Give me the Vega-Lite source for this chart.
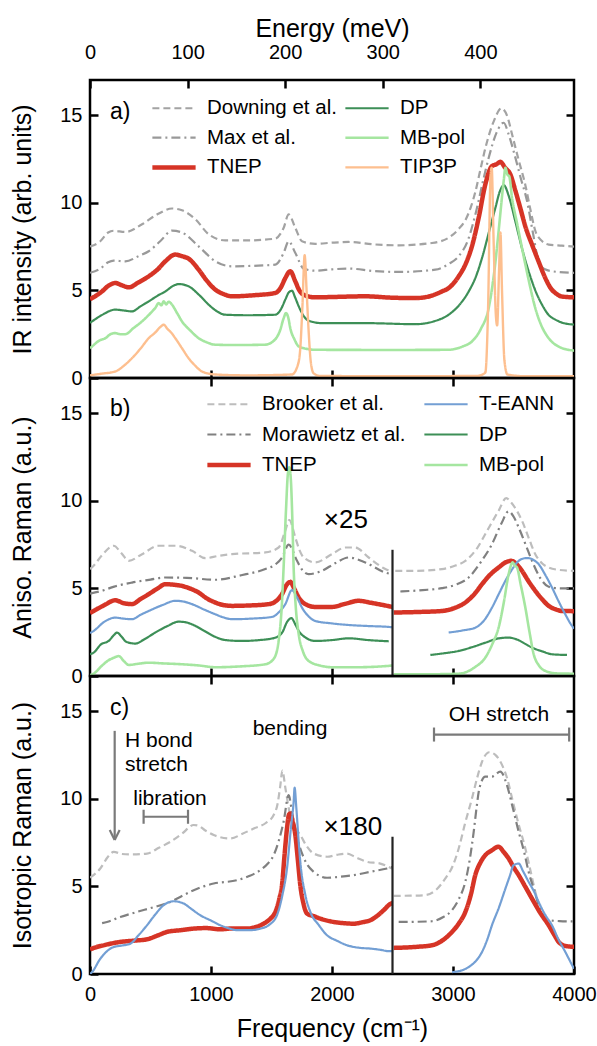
{
"$schema":"https://vega.github.io/schema/vega-lite/v6.json",
"padding":{"left":9,"top":14,"right":3,"bottom":3},
"spacing":0,
"bounds":"flush",
"datasets":{
"a":[
{"s":"Downing et al.","g":0,"x":0,"y":7.5},{"s":"Downing et al.","g":0,"x":85,"y":7.8},{"s":"Downing et al.","g":0,"x":150,"y":8.3},{"s":"Downing et al.","g":0,"x":196,"y":8.4},{"s":"Downing et al.","g":0,"x":292,"y":8.33},{"s":"Downing et al.","g":0,"x":430,"y":8.77},{"s":"Downing et al.","g":0,"x":560,"y":9.35},{"s":"Downing et al.","g":0,"x":678,"y":9.67},{"s":"Downing et al.","g":0,"x":760,"y":9.57},{"s":"Downing et al.","g":0,"x":870,"y":9.06},{"s":"Downing et al.","g":0,"x":981,"y":8.2},{"s":"Downing et al.","g":0,"x":1118,"y":7.85},{"s":"Downing et al.","g":0,"x":1300,"y":7.85},{"s":"Downing et al.","g":0,"x":1530,"y":7.95},{"s":"Downing et al.","g":0,"x":1600,"y":8.56},{"s":"Downing et al.","g":0,"x":1642,"y":9.33},{"s":"Downing et al.","g":0,"x":1697,"y":8.56},{"s":"Downing et al.","g":0,"x":1752,"y":7.8},{"s":"Downing et al.","g":0,"x":1862,"y":7.65},{"s":"Downing et al.","g":0,"x":2000,"y":7.72},{"s":"Downing et al.","g":0,"x":2138,"y":7.76},{"s":"Downing et al.","g":0,"x":2350,"y":7.62},{"s":"Downing et al.","g":0,"x":2551,"y":7.57},{"s":"Downing et al.","g":0,"x":2826,"y":7.7},{"s":"Downing et al.","g":0,"x":2964,"y":8.0},{"s":"Downing et al.","g":0,"x":3047,"y":8.5},{"s":"Downing et al.","g":0,"x":3102,"y":9.0},{"s":"Downing et al.","g":0,"x":3150,"y":9.8},{"s":"Downing et al.","g":0,"x":3184,"y":10.6},{"s":"Downing et al.","g":0,"x":3230,"y":12.0},{"s":"Downing et al.","g":0,"x":3267,"y":13.1},{"s":"Downing et al.","g":0,"x":3340,"y":14.7},{"s":"Downing et al.","g":0,"x":3400,"y":15.38},{"s":"Downing et al.","g":0,"x":3450,"y":14.9},{"s":"Downing et al.","g":0,"x":3488,"y":13.9},{"s":"Downing et al.","g":0,"x":3540,"y":12.5},{"s":"Downing et al.","g":0,"x":3598,"y":11.0},{"s":"Downing et al.","g":0,"x":3640,"y":9.6},{"s":"Downing et al.","g":0,"x":3680,"y":8.4},{"s":"Downing et al.","g":0,"x":3730,"y":7.85},{"s":"Downing et al.","g":0,"x":3791,"y":7.61},{"s":"Downing et al.","g":0,"x":3900,"y":7.55},{"s":"Downing et al.","g":0,"x":4000,"y":7.5},
{"s":"Max et al.","g":0,"x":0,"y":6.0},{"s":"Max et al.","g":0,"x":85,"y":6.24},{"s":"Max et al.","g":0,"x":150,"y":6.6},{"s":"Max et al.","g":0,"x":196,"y":6.7},{"s":"Max et al.","g":0,"x":292,"y":6.65},{"s":"Max et al.","g":0,"x":400,"y":6.95},{"s":"Max et al.","g":0,"x":485,"y":7.23},{"s":"Max et al.","g":0,"x":580,"y":7.8},{"s":"Max et al.","g":0,"x":678,"y":8.41},{"s":"Max et al.","g":0,"x":760,"y":8.3},{"s":"Max et al.","g":0,"x":898,"y":7.51},{"s":"Max et al.","g":0,"x":1036,"y":6.66},{"s":"Max et al.","g":0,"x":1174,"y":6.37},{"s":"Max et al.","g":0,"x":1350,"y":6.4},{"s":"Max et al.","g":0,"x":1532,"y":6.47},{"s":"Max et al.","g":0,"x":1600,"y":7.13},{"s":"Max et al.","g":0,"x":1642,"y":7.8},{"s":"Max et al.","g":0,"x":1697,"y":7.13},{"s":"Max et al.","g":0,"x":1766,"y":6.24},{"s":"Max et al.","g":0,"x":1862,"y":6.12},{"s":"Max et al.","g":0,"x":2000,"y":6.2},{"s":"Max et al.","g":0,"x":2138,"y":6.24},{"s":"Max et al.","g":0,"x":2350,"y":6.1},{"s":"Max et al.","g":0,"x":2551,"y":6.05},{"s":"Max et al.","g":0,"x":2854,"y":6.18},{"s":"Max et al.","g":0,"x":2964,"y":6.5},{"s":"Max et al.","g":0,"x":3047,"y":6.95},{"s":"Max et al.","g":0,"x":3120,"y":7.8},{"s":"Max et al.","g":0,"x":3198,"y":9.7},{"s":"Max et al.","g":0,"x":3250,"y":11.3},{"s":"Max et al.","g":0,"x":3295,"y":12.56},{"s":"Max et al.","g":0,"x":3360,"y":14.0},{"s":"Max et al.","g":0,"x":3419,"y":14.56},{"s":"Max et al.","g":0,"x":3460,"y":13.9},{"s":"Max et al.","g":0,"x":3501,"y":12.94},{"s":"Max et al.","g":0,"x":3560,"y":11.4},{"s":"Max et al.","g":0,"x":3612,"y":10.09},{"s":"Max et al.","g":0,"x":3660,"y":8.3},{"s":"Max et al.","g":0,"x":3708,"y":6.66},{"s":"Max et al.","g":0,"x":3760,"y":6.2},{"s":"Max et al.","g":0,"x":3818,"y":6.09},{"s":"Max et al.","g":0,"x":4000,"y":6.0},
{"s":"TNEP","g":0,"x":0,"y":4.5},{"s":"TNEP","g":0,"x":17,"y":4.56},{"s":"TNEP","g":0,"x":99,"y":4.94},{"s":"TNEP","g":0,"x":150,"y":5.25},{"s":"TNEP","g":0,"x":209,"y":5.42},{"s":"TNEP","g":0,"x":260,"y":5.3},{"s":"TNEP","g":0,"x":320,"y":5.17},{"s":"TNEP","g":0,"x":400,"y":5.45},{"s":"TNEP","g":0,"x":485,"y":5.8},{"s":"TNEP","g":0,"x":560,"y":6.2},{"s":"TNEP","g":0,"x":623,"y":6.66},{"s":"TNEP","g":0,"x":705,"y":7.04},{"s":"TNEP","g":0,"x":760,"y":6.95},{"s":"TNEP","g":0,"x":815,"y":6.81},{"s":"TNEP","g":0,"x":898,"y":6.18},{"s":"TNEP","g":0,"x":960,"y":5.6},{"s":"TNEP","g":0,"x":1036,"y":5.04},{"s":"TNEP","g":0,"x":1100,"y":4.8},{"s":"TNEP","g":0,"x":1174,"y":4.66},{"s":"TNEP","g":0,"x":1350,"y":4.72},{"s":"TNEP","g":0,"x":1532,"y":4.85},{"s":"TNEP","g":0,"x":1580,"y":5.2},{"s":"TNEP","g":0,"x":1614,"y":5.7},{"s":"TNEP","g":0,"x":1655,"y":6.09},{"s":"TNEP","g":0,"x":1697,"y":5.51},{"s":"TNEP","g":0,"x":1730,"y":5.0},{"s":"TNEP","g":0,"x":1766,"y":4.75},{"s":"TNEP","g":0,"x":1862,"y":4.6},{"s":"TNEP","g":0,"x":2000,"y":4.62},{"s":"TNEP","g":0,"x":2275,"y":4.66},{"s":"TNEP","g":0,"x":2500,"y":4.58},{"s":"TNEP","g":0,"x":2688,"y":4.56},{"s":"TNEP","g":0,"x":2800,"y":4.65},{"s":"TNEP","g":0,"x":2909,"y":4.94},{"s":"TNEP","g":0,"x":2964,"y":5.13},{"s":"TNEP","g":0,"x":3047,"y":5.8},{"s":"TNEP","g":0,"x":3102,"y":6.47},{"s":"TNEP","g":0,"x":3160,"y":7.6},{"s":"TNEP","g":0,"x":3212,"y":9.13},{"s":"TNEP","g":0,"x":3267,"y":11.04},{"s":"TNEP","g":0,"x":3322,"y":12.09},{"s":"TNEP","g":0,"x":3360,"y":12.2},{"s":"TNEP","g":0,"x":3391,"y":12.33},{"s":"TNEP","g":0,"x":3430,"y":12.0},{"s":"TNEP","g":0,"x":3474,"y":11.61},{"s":"TNEP","g":0,"x":3515,"y":10.7},{"s":"TNEP","g":0,"x":3556,"y":9.7},{"s":"TNEP","g":0,"x":3600,"y":8.6},{"s":"TNEP","g":0,"x":3653,"y":7.61},{"s":"TNEP","g":0,"x":3710,"y":6.6},{"s":"TNEP","g":0,"x":3763,"y":5.7},{"s":"TNEP","g":0,"x":3810,"y":5.1},{"s":"TNEP","g":0,"x":3846,"y":4.85},{"s":"TNEP","g":0,"x":3900,"y":4.65},{"s":"TNEP","g":0,"x":4000,"y":4.6},
{"s":"DP","g":0,"x":0,"y":3.15},{"s":"DP","g":0,"x":17,"y":3.23},{"s":"DP","g":0,"x":100,"y":3.6},{"s":"DP","g":0,"x":209,"y":3.9},{"s":"DP","g":0,"x":280,"y":3.85},{"s":"DP","g":0,"x":347,"y":3.8},{"s":"DP","g":0,"x":420,"y":4.1},{"s":"DP","g":0,"x":485,"y":4.37},{"s":"DP","g":0,"x":560,"y":4.7},{"s":"DP","g":0,"x":623,"y":4.94},{"s":"DP","g":0,"x":700,"y":5.3},{"s":"DP","g":0,"x":733,"y":5.36},{"s":"DP","g":0,"x":815,"y":5.23},{"s":"DP","g":0,"x":900,"y":4.75},{"s":"DP","g":0,"x":981,"y":4.18},{"s":"DP","g":0,"x":1050,"y":3.8},{"s":"DP","g":0,"x":1118,"y":3.61},{"s":"DP","g":0,"x":1300,"y":3.58},{"s":"DP","g":0,"x":1532,"y":3.61},{"s":"DP","g":0,"x":1580,"y":3.95},{"s":"DP","g":0,"x":1614,"y":4.47},{"s":"DP","g":0,"x":1645,"y":4.9},{"s":"DP","g":0,"x":1669,"y":4.98},{"s":"DP","g":0,"x":1695,"y":4.6},{"s":"DP","g":0,"x":1725,"y":4.09},{"s":"DP","g":0,"x":1765,"y":3.55},{"s":"DP","g":0,"x":1807,"y":3.27},{"s":"DP","g":0,"x":1917,"y":3.13},{"s":"DP","g":0,"x":2275,"y":3.13},{"s":"DP","g":0,"x":2688,"y":3.07},{"s":"DP","g":0,"x":2850,"y":3.25},{"s":"DP","g":0,"x":2964,"y":3.61},{"s":"DP","g":0,"x":3050,"y":4.15},{"s":"DP","g":0,"x":3130,"y":4.94},{"s":"DP","g":0,"x":3190,"y":5.8},{"s":"DP","g":0,"x":3240,"y":6.85},{"s":"DP","g":0,"x":3300,"y":8.4},{"s":"DP","g":0,"x":3350,"y":9.7},{"s":"DP","g":0,"x":3390,"y":10.7},{"s":"DP","g":0,"x":3420,"y":11.0},{"s":"DP","g":0,"x":3460,"y":10.4},{"s":"DP","g":0,"x":3515,"y":8.94},{"s":"DP","g":0,"x":3570,"y":7.4},{"s":"DP","g":0,"x":3625,"y":6.09},{"s":"DP","g":0,"x":3680,"y":5.0},{"s":"DP","g":0,"x":3736,"y":4.18},{"s":"DP","g":0,"x":3790,"y":3.6},{"s":"DP","g":0,"x":3846,"y":3.33},{"s":"DP","g":0,"x":3920,"y":3.12},{"s":"DP","g":0,"x":4000,"y":3.05},
{"s":"MB-pol","g":0,"x":0,"y":1.7},{"s":"MB-pol","g":0,"x":17,"y":1.8},{"s":"MB-pol","g":0,"x":80,"y":2.15},{"s":"MB-pol","g":0,"x":127,"y":2.27},{"s":"MB-pol","g":0,"x":170,"y":2.5},{"s":"MB-pol","g":0,"x":209,"y":2.56},{"s":"MB-pol","g":0,"x":250,"y":2.5},{"s":"MB-pol","g":0,"x":292,"y":2.5},{"s":"MB-pol","g":0,"x":360,"y":2.85},{"s":"MB-pol","g":0,"x":430,"y":3.23},{"s":"MB-pol","g":0,"x":500,"y":3.7},{"s":"MB-pol","g":0,"x":540,"y":4.0},{"s":"MB-pol","g":0,"x":567,"y":4.27},{"s":"MB-pol","g":0,"x":590,"y":4.15},{"s":"MB-pol","g":0,"x":609,"y":4.37},{"s":"MB-pol","g":0,"x":630,"y":4.2},{"s":"MB-pol","g":0,"x":650,"y":4.35},{"s":"MB-pol","g":0,"x":678,"y":4.18},{"s":"MB-pol","g":0,"x":720,"y":3.7},{"s":"MB-pol","g":0,"x":760,"y":3.23},{"s":"MB-pol","g":0,"x":830,"y":2.7},{"s":"MB-pol","g":0,"x":898,"y":2.27},{"s":"MB-pol","g":0,"x":960,"y":2.05},{"s":"MB-pol","g":0,"x":1036,"y":1.9},{"s":"MB-pol","g":0,"x":1200,"y":1.88},{"s":"MB-pol","g":0,"x":1446,"y":1.9},{"s":"MB-pol","g":0,"x":1530,"y":2.2},{"s":"MB-pol","g":0,"x":1570,"y":2.7},{"s":"MB-pol","g":0,"x":1600,"y":3.4},{"s":"MB-pol","g":0,"x":1620,"y":3.7},{"s":"MB-pol","g":0,"x":1640,"y":3.4},{"s":"MB-pol","g":0,"x":1655,"y":2.85},{"s":"MB-pol","g":0,"x":1690,"y":2.2},{"s":"MB-pol","g":0,"x":1725,"y":1.8},{"s":"MB-pol","g":0,"x":1800,"y":1.65},{"s":"MB-pol","g":0,"x":1862,"y":1.61},{"s":"MB-pol","g":0,"x":2500,"y":1.6},{"s":"MB-pol","g":0,"x":2964,"y":1.61},{"s":"MB-pol","g":0,"x":3080,"y":1.8},{"s":"MB-pol","g":0,"x":3157,"y":2.09},{"s":"MB-pol","g":0,"x":3230,"y":2.8},{"s":"MB-pol","g":0,"x":3295,"y":3.99},{"s":"MB-pol","g":0,"x":3340,"y":6.0},{"s":"MB-pol","g":0,"x":3377,"y":8.37},{"s":"MB-pol","g":0,"x":3400,"y":10.0},{"s":"MB-pol","g":0,"x":3420,"y":11.3},{"s":"MB-pol","g":0,"x":3433,"y":11.99},{"s":"MB-pol","g":0,"x":3450,"y":11.6},{"s":"MB-pol","g":0,"x":3465,"y":11.5},{"s":"MB-pol","g":0,"x":3488,"y":10.27},{"s":"MB-pol","g":0,"x":3530,"y":8.8},{"s":"MB-pol","g":0,"x":3570,"y":7.42},{"s":"MB-pol","g":0,"x":3625,"y":5.6},{"s":"MB-pol","g":0,"x":3680,"y":3.99},{"s":"MB-pol","g":0,"x":3730,"y":3.0},{"s":"MB-pol","g":0,"x":3791,"y":2.27},{"s":"MB-pol","g":0,"x":3870,"y":1.8},{"s":"MB-pol","g":0,"x":4000,"y":1.56},
{"s":"TIP3P","g":0,"x":0,"y":0.15},{"s":"TIP3P","g":0,"x":100,"y":0.25},{"s":"TIP3P","g":0,"x":209,"y":0.37},{"s":"TIP3P","g":0,"x":280,"y":0.7},{"s":"TIP3P","g":0,"x":347,"y":1.13},{"s":"TIP3P","g":0,"x":420,"y":1.7},{"s":"TIP3P","g":0,"x":485,"y":2.27},{"s":"TIP3P","g":0,"x":540,"y":2.6},{"s":"TIP3P","g":0,"x":580,"y":2.9},{"s":"TIP3P","g":0,"x":609,"y":3.04},{"s":"TIP3P","g":0,"x":640,"y":2.8},{"s":"TIP3P","g":0,"x":670,"y":2.6},{"s":"TIP3P","g":0,"x":705,"y":2.27},{"s":"TIP3P","g":0,"x":760,"y":1.7},{"s":"TIP3P","g":0,"x":815,"y":1.13},{"s":"TIP3P","g":0,"x":870,"y":0.7},{"s":"TIP3P","g":0,"x":926,"y":0.37},{"s":"TIP3P","g":0,"x":1036,"y":0.2},{"s":"TIP3P","g":0,"x":1300,"y":0.15},{"s":"TIP3P","g":0,"x":1669,"y":0.2},{"s":"TIP3P","g":0,"x":1720,"y":0.8},{"s":"TIP3P","g":0,"x":1738,"y":1.7},{"s":"TIP3P","g":0,"x":1755,"y":4.0},{"s":"TIP3P","g":0,"x":1774,"y":7.0},{"s":"TIP3P","g":0,"x":1790,"y":5.0},{"s":"TIP3P","g":0,"x":1807,"y":2.66},{"s":"TIP3P","g":0,"x":1825,"y":0.9},{"s":"TIP3P","g":0,"x":1848,"y":0.27},{"s":"TIP3P","g":0,"x":1900,"y":0.12},{"s":"TIP3P","g":0,"x":2500,"y":0.1},{"s":"TIP3P","g":0,"x":3200,"y":0.12},{"s":"TIP3P","g":0,"x":3267,"y":0.3},{"s":"TIP3P","g":0,"x":3290,"y":4.0},{"s":"TIP3P","g":0,"x":3310,"y":11.5},{"s":"TIP3P","g":0,"x":3320,"y":12.0},{"s":"TIP3P","g":0,"x":3335,"y":8.0},{"s":"TIP3P","g":0,"x":3355,"y":3.5},{"s":"TIP3P","g":0,"x":3365,"y":3.0},{"s":"TIP3P","g":0,"x":3380,"y":6.0},{"s":"TIP3P","g":0,"x":3392,"y":8.3},{"s":"TIP3P","g":0,"x":3405,"y":5.0},{"s":"TIP3P","g":0,"x":3425,"y":1.0},{"s":"TIP3P","g":0,"x":3450,"y":0.2},{"s":"TIP3P","g":0,"x":3600,"y":0.1},{"s":"TIP3P","g":0,"x":4000,"y":0.1}
],
"b":[
{"s":"Brooker et al.","g":0,"x":0,"y":6.1},{"s":"Brooker et al.","g":0,"x":30,"y":6.29},{"s":"Brooker et al.","g":0,"x":100,"y":6.9},{"s":"Brooker et al.","g":0,"x":196,"y":7.43},{"s":"Brooker et al.","g":0,"x":260,"y":7.0},{"s":"Brooker et al.","g":0,"x":320,"y":6.57},{"s":"Brooker et al.","g":0,"x":430,"y":6.95},{"s":"Brooker et al.","g":0,"x":568,"y":7.43},{"s":"Brooker et al.","g":0,"x":705,"y":7.43},{"s":"Brooker et al.","g":0,"x":843,"y":7.14},{"s":"Brooker et al.","g":0,"x":953,"y":6.72},{"s":"Brooker et al.","g":0,"x":1060,"y":6.85},{"s":"Brooker et al.","g":0,"x":1174,"y":6.95},{"s":"Brooker et al.","g":0,"x":1449,"y":7.05},{"s":"Brooker et al.","g":0,"x":1559,"y":7.33},{"s":"Brooker et al.","g":0,"x":1614,"y":8.29},{"s":"Brooker et al.","g":0,"x":1647,"y":8.9},{"s":"Brooker et al.","g":0,"x":1697,"y":7.9},{"s":"Brooker et al.","g":0,"x":1730,"y":7.2},{"s":"Brooker et al.","g":0,"x":1766,"y":6.76},{"s":"Brooker et al.","g":0,"x":1862,"y":6.48},{"s":"Brooker et al.","g":0,"x":2000,"y":6.95},{"s":"Brooker et al.","g":0,"x":2110,"y":7.33},{"s":"Brooker et al.","g":0,"x":2193,"y":7.33},{"s":"Brooker et al.","g":0,"x":2303,"y":6.76},{"s":"Brooker et al.","g":0,"x":2441,"y":6.1},{"s":"Brooker et al.","g":0,"x":2500,"y":5.95},
{"s":"Brooker et al.","g":1,"x":2523,"y":6.0},{"s":"Brooker et al.","g":1,"x":2700,"y":6.0},{"s":"Brooker et al.","g":1,"x":2909,"y":6.1},{"s":"Brooker et al.","g":1,"x":3020,"y":6.3},{"s":"Brooker et al.","g":1,"x":3102,"y":6.57},{"s":"Brooker et al.","g":1,"x":3200,"y":7.3},{"s":"Brooker et al.","g":1,"x":3267,"y":8.1},{"s":"Brooker et al.","g":1,"x":3377,"y":9.43},{"s":"Brooker et al.","g":1,"x":3440,"y":10.15},{"s":"Brooker et al.","g":1,"x":3480,"y":9.9},{"s":"Brooker et al.","g":1,"x":3530,"y":9.4},{"s":"Brooker et al.","g":1,"x":3570,"y":8.86},{"s":"Brooker et al.","g":1,"x":3630,"y":7.8},{"s":"Brooker et al.","g":1,"x":3680,"y":6.95},{"s":"Brooker et al.","g":1,"x":3740,"y":6.4},{"s":"Brooker et al.","g":1,"x":3791,"y":6.19},{"s":"Brooker et al.","g":1,"x":3880,"y":6.05},{"s":"Brooker et al.","g":1,"x":4000,"y":6.0},
{"s":"Morawietz et al.","g":0,"x":0,"y":4.7},{"s":"Morawietz et al.","g":0,"x":99,"y":4.86},{"s":"Morawietz et al.","g":0,"x":200,"y":5.1},{"s":"Morawietz et al.","g":0,"x":347,"y":5.33},{"s":"Morawietz et al.","g":0,"x":500,"y":5.5},{"s":"Morawietz et al.","g":0,"x":623,"y":5.62},{"s":"Morawietz et al.","g":0,"x":800,"y":5.6},{"s":"Morawietz et al.","g":0,"x":1036,"y":5.49},{"s":"Morawietz et al.","g":0,"x":1250,"y":5.75},{"s":"Morawietz et al.","g":0,"x":1449,"y":6.1},{"s":"Morawietz et al.","g":0,"x":1530,"y":6.35},{"s":"Morawietz et al.","g":0,"x":1587,"y":6.76},{"s":"Morawietz et al.","g":0,"x":1642,"y":7.49},{"s":"Morawietz et al.","g":0,"x":1711,"y":6.57},{"s":"Morawietz et al.","g":0,"x":1760,"y":6.0},{"s":"Morawietz et al.","g":0,"x":1807,"y":5.81},{"s":"Morawietz et al.","g":0,"x":1917,"y":6.0},{"s":"Morawietz et al.","g":0,"x":2030,"y":6.45},{"s":"Morawietz et al.","g":0,"x":2138,"y":6.76},{"s":"Morawietz et al.","g":0,"x":2275,"y":6.48},{"s":"Morawietz et al.","g":0,"x":2441,"y":5.9},{"s":"Morawietz et al.","g":0,"x":2500,"y":5.8},
{"s":"Morawietz et al.","g":1,"x":2565,"y":4.82},{"s":"Morawietz et al.","g":1,"x":2750,"y":4.9},{"s":"Morawietz et al.","g":1,"x":2909,"y":5.01},{"s":"Morawietz et al.","g":1,"x":3020,"y":5.2},{"s":"Morawietz et al.","g":1,"x":3130,"y":5.62},{"s":"Morawietz et al.","g":1,"x":3230,"y":6.5},{"s":"Morawietz et al.","g":1,"x":3322,"y":7.52},{"s":"Morawietz et al.","g":1,"x":3400,"y":8.7},{"s":"Morawietz et al.","g":1,"x":3460,"y":9.4},{"s":"Morawietz et al.","g":1,"x":3500,"y":9.1},{"s":"Morawietz et al.","g":1,"x":3543,"y":8.47},{"s":"Morawietz et al.","g":1,"x":3600,"y":7.5},{"s":"Morawietz et al.","g":1,"x":3653,"y":6.57},{"s":"Morawietz et al.","g":1,"x":3720,"y":5.6},{"s":"Morawietz et al.","g":1,"x":3791,"y":5.09},{"s":"Morawietz et al.","g":1,"x":3880,"y":5.0},{"s":"Morawietz et al.","g":1,"x":4000,"y":5.0},
{"s":"TNEP","g":0,"x":0,"y":3.6},{"s":"TNEP","g":0,"x":30,"y":3.71},{"s":"TNEP","g":0,"x":120,"y":4.05},{"s":"TNEP","g":0,"x":209,"y":4.32},{"s":"TNEP","g":0,"x":280,"y":4.15},{"s":"TNEP","g":0,"x":347,"y":4.1},{"s":"TNEP","g":0,"x":420,"y":4.4},{"s":"TNEP","g":0,"x":485,"y":4.67},{"s":"TNEP","g":0,"x":560,"y":5.0},{"s":"TNEP","g":0,"x":623,"y":5.24},{"s":"TNEP","g":0,"x":700,"y":5.2},{"s":"TNEP","g":0,"x":760,"y":5.14},{"s":"TNEP","g":0,"x":830,"y":4.98},{"s":"TNEP","g":0,"x":898,"y":4.76},{"s":"TNEP","g":0,"x":960,"y":4.45},{"s":"TNEP","g":0,"x":1036,"y":4.19},{"s":"TNEP","g":0,"x":1100,"y":4.05},{"s":"TNEP","g":0,"x":1174,"y":4.0},{"s":"TNEP","g":0,"x":1300,"y":4.02},{"s":"TNEP","g":0,"x":1477,"y":4.1},{"s":"TNEP","g":0,"x":1550,"y":4.35},{"s":"TNEP","g":0,"x":1587,"y":4.67},{"s":"TNEP","g":0,"x":1625,"y":5.2},{"s":"TNEP","g":0,"x":1655,"y":5.37},{"s":"TNEP","g":0,"x":1690,"y":4.95},{"s":"TNEP","g":0,"x":1725,"y":4.47},{"s":"TNEP","g":0,"x":1780,"y":4.1},{"s":"TNEP","g":0,"x":1862,"y":3.94},{"s":"TNEP","g":0,"x":2000,"y":3.94},{"s":"TNEP","g":0,"x":2100,"y":4.1},{"s":"TNEP","g":0,"x":2220,"y":4.29},{"s":"TNEP","g":0,"x":2320,"y":4.18},{"s":"TNEP","g":0,"x":2413,"y":4.06},{"s":"TNEP","g":0,"x":2500,"y":3.94},
{"s":"TNEP","g":1,"x":2510,"y":3.62},{"s":"TNEP","g":1,"x":2700,"y":3.65},{"s":"TNEP","g":1,"x":2909,"y":3.71},{"s":"TNEP","g":1,"x":3020,"y":3.9},{"s":"TNEP","g":1,"x":3102,"y":4.19},{"s":"TNEP","g":1,"x":3180,"y":4.7},{"s":"TNEP","g":1,"x":3240,"y":5.24},{"s":"TNEP","g":1,"x":3310,"y":5.8},{"s":"TNEP","g":1,"x":3377,"y":6.19},{"s":"TNEP","g":1,"x":3440,"y":6.5},{"s":"TNEP","g":1,"x":3482,"y":6.57},{"s":"TNEP","g":1,"x":3530,"y":6.35},{"s":"TNEP","g":1,"x":3570,"y":6.0},{"s":"TNEP","g":1,"x":3620,"y":5.45},{"s":"TNEP","g":1,"x":3680,"y":4.86},{"s":"TNEP","g":1,"x":3740,"y":4.35},{"s":"TNEP","g":1,"x":3791,"y":4.0},{"s":"TNEP","g":1,"x":3850,"y":3.8},{"s":"TNEP","g":1,"x":3901,"y":3.71},{"s":"TNEP","g":1,"x":4000,"y":3.7},
{"s":"T-EANN","g":0,"x":0,"y":2.45},{"s":"T-EANN","g":0,"x":30,"y":2.57},{"s":"T-EANN","g":0,"x":120,"y":3.1},{"s":"T-EANN","g":0,"x":209,"y":3.33},{"s":"T-EANN","g":0,"x":280,"y":3.27},{"s":"T-EANN","g":0,"x":347,"y":3.24},{"s":"T-EANN","g":0,"x":420,"y":3.5},{"s":"T-EANN","g":0,"x":485,"y":3.71},{"s":"T-EANN","g":0,"x":600,"y":4.05},{"s":"T-EANN","g":0,"x":705,"y":4.29},{"s":"T-EANN","g":0,"x":770,"y":4.25},{"s":"T-EANN","g":0,"x":843,"y":4.1},{"s":"T-EANN","g":0,"x":940,"y":3.8},{"s":"T-EANN","g":0,"x":1036,"y":3.52},{"s":"T-EANN","g":0,"x":1100,"y":3.35},{"s":"T-EANN","g":0,"x":1174,"y":3.24},{"s":"T-EANN","g":0,"x":1350,"y":3.28},{"s":"T-EANN","g":0,"x":1504,"y":3.37},{"s":"T-EANN","g":0,"x":1570,"y":3.7},{"s":"T-EANN","g":0,"x":1614,"y":4.1},{"s":"T-EANN","g":0,"x":1669,"y":4.9},{"s":"T-EANN","g":0,"x":1710,"y":4.5},{"s":"T-EANN","g":0,"x":1752,"y":3.9},{"s":"T-EANN","g":0,"x":1800,"y":3.45},{"s":"T-EANN","g":0,"x":1862,"y":3.14},{"s":"T-EANN","g":0,"x":2000,"y":3.0},{"s":"T-EANN","g":0,"x":2138,"y":2.91},{"s":"T-EANN","g":0,"x":2300,"y":2.85},{"s":"T-EANN","g":0,"x":2469,"y":2.8},{"s":"T-EANN","g":0,"x":2500,"y":2.78},
{"s":"T-EANN","g":1,"x":2964,"y":2.48},{"s":"T-EANN","g":1,"x":3080,"y":2.6},{"s":"T-EANN","g":1,"x":3185,"y":2.76},{"s":"T-EANN","g":1,"x":3260,"y":3.2},{"s":"T-EANN","g":1,"x":3322,"y":3.9},{"s":"T-EANN","g":1,"x":3380,"y":4.7},{"s":"T-EANN","g":1,"x":3433,"y":5.43},{"s":"T-EANN","g":1,"x":3490,"y":6.1},{"s":"T-EANN","g":1,"x":3543,"y":6.57},{"s":"T-EANN","g":1,"x":3600,"y":6.72},{"s":"T-EANN","g":1,"x":3625,"y":6.72},{"s":"T-EANN","g":1,"x":3670,"y":6.6},{"s":"T-EANN","g":1,"x":3708,"y":6.38},{"s":"T-EANN","g":1,"x":3760,"y":5.8},{"s":"T-EANN","g":1,"x":3818,"y":5.05},{"s":"T-EANN","g":1,"x":3870,"y":4.3},{"s":"T-EANN","g":1,"x":3928,"y":3.52},{"s":"T-EANN","g":1,"x":3970,"y":3.0},{"s":"T-EANN","g":1,"x":4000,"y":2.7},
{"s":"DP","g":0,"x":0,"y":1.25},{"s":"DP","g":0,"x":30,"y":1.33},{"s":"DP","g":0,"x":90,"y":1.8},{"s":"DP","g":0,"x":154,"y":2.0},{"s":"DP","g":0,"x":200,"y":2.35},{"s":"DP","g":0,"x":223,"y":2.48},{"s":"DP","g":0,"x":260,"y":2.25},{"s":"DP","g":0,"x":300,"y":1.95},{"s":"DP","g":0,"x":375,"y":1.85},{"s":"DP","g":0,"x":450,"y":2.1},{"s":"DP","g":0,"x":540,"y":2.48},{"s":"DP","g":0,"x":640,"y":2.85},{"s":"DP","g":0,"x":733,"y":3.1},{"s":"DP","g":0,"x":800,"y":3.05},{"s":"DP","g":0,"x":870,"y":2.86},{"s":"DP","g":0,"x":950,"y":2.55},{"s":"DP","g":0,"x":1036,"y":2.23},{"s":"DP","g":0,"x":1120,"y":2.05},{"s":"DP","g":0,"x":1256,"y":2.0},{"s":"DP","g":0,"x":1400,"y":2.05},{"s":"DP","g":0,"x":1532,"y":2.19},{"s":"DP","g":0,"x":1590,"y":2.5},{"s":"DP","g":0,"x":1630,"y":3.1},{"s":"DP","g":0,"x":1664,"y":3.3},{"s":"DP","g":0,"x":1700,"y":2.9},{"s":"DP","g":0,"x":1725,"y":2.57},{"s":"DP","g":0,"x":1780,"y":2.2},{"s":"DP","g":0,"x":1862,"y":2.0},{"s":"DP","g":0,"x":2000,"y":2.05},{"s":"DP","g":0,"x":2138,"y":2.15},{"s":"DP","g":0,"x":2300,"y":2.05},{"s":"DP","g":0,"x":2469,"y":1.98},
{"s":"DP","g":1,"x":2813,"y":1.2},{"s":"DP","g":1,"x":2930,"y":1.3},{"s":"DP","g":1,"x":3047,"y":1.43},{"s":"DP","g":1,"x":3160,"y":1.65},{"s":"DP","g":1,"x":3267,"y":1.9},{"s":"DP","g":1,"x":3380,"y":2.15},{"s":"DP","g":1,"x":3460,"y":2.19},{"s":"DP","g":1,"x":3540,"y":2.05},{"s":"DP","g":1,"x":3600,"y":1.82},{"s":"DP","g":1,"x":3653,"y":1.62},{"s":"DP","g":1,"x":3740,"y":1.4},{"s":"DP","g":1,"x":3818,"y":1.24},{"s":"DP","g":1,"x":3942,"y":1.2},
{"s":"MB-pol","g":0,"x":0,"y":0.05},{"s":"MB-pol","g":0,"x":30,"y":0.13},{"s":"MB-pol","g":0,"x":100,"y":0.6},{"s":"MB-pol","g":0,"x":154,"y":0.9},{"s":"MB-pol","g":0,"x":200,"y":1.05},{"s":"MB-pol","g":0,"x":237,"y":1.14},{"s":"MB-pol","g":0,"x":280,"y":0.85},{"s":"MB-pol","g":0,"x":320,"y":0.63},{"s":"MB-pol","g":0,"x":400,"y":0.7},{"s":"MB-pol","g":0,"x":485,"y":0.76},{"s":"MB-pol","g":0,"x":600,"y":0.72},{"s":"MB-pol","g":0,"x":760,"y":0.67},{"s":"MB-pol","g":0,"x":900,"y":0.6},{"s":"MB-pol","g":0,"x":1036,"y":0.5},{"s":"MB-pol","g":0,"x":1250,"y":0.55},{"s":"MB-pol","g":0,"x":1449,"y":0.67},{"s":"MB-pol","g":0,"x":1520,"y":1.0},{"s":"MB-pol","g":0,"x":1559,"y":2.0},{"s":"MB-pol","g":0,"x":1585,"y":4.0},{"s":"MB-pol","g":0,"x":1600,"y":6.19},{"s":"MB-pol","g":0,"x":1620,"y":9.5},{"s":"MB-pol","g":0,"x":1635,"y":11.5},{"s":"MB-pol","g":0,"x":1647,"y":11.9},{"s":"MB-pol","g":0,"x":1660,"y":11.2},{"s":"MB-pol","g":0,"x":1672,"y":9.0},{"s":"MB-pol","g":0,"x":1683,"y":6.19},{"s":"MB-pol","g":0,"x":1700,"y":4.0},{"s":"MB-pol","g":0,"x":1725,"y":2.38},{"s":"MB-pol","g":0,"x":1760,"y":1.4},{"s":"MB-pol","g":0,"x":1807,"y":0.86},{"s":"MB-pol","g":0,"x":1900,"y":0.6},{"s":"MB-pol","g":0,"x":2000,"y":0.5},{"s":"MB-pol","g":0,"x":2200,"y":0.5},{"s":"MB-pol","g":0,"x":2469,"y":0.58},{"s":"MB-pol","g":0,"x":2500,"y":0.6},
{"s":"MB-pol","g":1,"x":2510,"y":0.1},{"s":"MB-pol","g":1,"x":2800,"y":0.1},{"s":"MB-pol","g":1,"x":3047,"y":0.13},{"s":"MB-pol","g":1,"x":3180,"y":0.5},{"s":"MB-pol","g":1,"x":3267,"y":1.05},{"s":"MB-pol","g":1,"x":3330,"y":1.9},{"s":"MB-pol","g":1,"x":3377,"y":2.76},{"s":"MB-pol","g":1,"x":3420,"y":4.2},{"s":"MB-pol","g":1,"x":3460,"y":5.81},{"s":"MB-pol","g":1,"x":3493,"y":6.48},{"s":"MB-pol","g":1,"x":3510,"y":6.3},{"s":"MB-pol","g":1,"x":3529,"y":6.19},{"s":"MB-pol","g":1,"x":3560,"y":5.2},{"s":"MB-pol","g":1,"x":3598,"y":3.9},{"s":"MB-pol","g":1,"x":3630,"y":2.6},{"s":"MB-pol","g":1,"x":3667,"y":1.24},{"s":"MB-pol","g":1,"x":3710,"y":0.6},{"s":"MB-pol","g":1,"x":3763,"y":0.29},{"s":"MB-pol","g":1,"x":3850,"y":0.15},{"s":"MB-pol","g":1,"x":4000,"y":0.13}
],
"c":[
{"s":"Brooker et al.","g":0,"x":0,"y":5.5},{"s":"Brooker et al.","g":0,"x":85,"y":6.02},{"s":"Brooker et al.","g":0,"x":150,"y":6.7},{"s":"Brooker et al.","g":0,"x":196,"y":6.97},{"s":"Brooker et al.","g":0,"x":260,"y":6.85},{"s":"Brooker et al.","g":0,"x":333,"y":6.82},{"s":"Brooker et al.","g":0,"x":471,"y":6.87},{"s":"Brooker et al.","g":0,"x":570,"y":7.2},{"s":"Brooker et al.","g":0,"x":664,"y":7.54},{"s":"Brooker et al.","g":0,"x":760,"y":8.0},{"s":"Brooker et al.","g":0,"x":857,"y":8.5},{"s":"Brooker et al.","g":0,"x":900,"y":8.45},{"s":"Brooker et al.","g":0,"x":950,"y":8.2},{"s":"Brooker et al.","g":0,"x":1022,"y":7.93},{"s":"Brooker et al.","g":0,"x":1160,"y":7.73},{"s":"Brooker et al.","g":0,"x":1260,"y":8.0},{"s":"Brooker et al.","g":0,"x":1353,"y":8.3},{"s":"Brooker et al.","g":0,"x":1450,"y":8.6},{"s":"Brooker et al.","g":0,"x":1518,"y":9.07},{"s":"Brooker et al.","g":0,"x":1550,"y":9.7},{"s":"Brooker et al.","g":0,"x":1572,"y":10.7},{"s":"Brooker et al.","g":0,"x":1590,"y":11.6},{"s":"Brooker et al.","g":0,"x":1615,"y":10.6},{"s":"Brooker et al.","g":0,"x":1650,"y":9.2},{"s":"Brooker et al.","g":0,"x":1700,"y":8.3},{"s":"Brooker et al.","g":0,"x":1738,"y":7.93},{"s":"Brooker et al.","g":0,"x":1790,"y":7.3},{"s":"Brooker et al.","g":0,"x":1849,"y":6.87},{"s":"Brooker et al.","g":0,"x":1959,"y":6.69},{"s":"Brooker et al.","g":0,"x":2040,"y":6.8},{"s":"Brooker et al.","g":0,"x":2124,"y":6.87},{"s":"Brooker et al.","g":0,"x":2200,"y":6.65},{"s":"Brooker et al.","g":0,"x":2289,"y":6.4},{"s":"Brooker et al.","g":0,"x":2399,"y":6.3},{"s":"Brooker et al.","g":0,"x":2469,"y":6.11},{"s":"Brooker et al.","g":0,"x":2500,"y":6.0},
{"s":"Brooker et al.","g":1,"x":2510,"y":4.46},{"s":"Brooker et al.","g":1,"x":2650,"y":4.47},{"s":"Brooker et al.","g":1,"x":2771,"y":4.5},{"s":"Brooker et al.","g":1,"x":2860,"y":4.8},{"s":"Brooker et al.","g":1,"x":2937,"y":5.45},{"s":"Brooker et al.","g":1,"x":3000,"y":6.2},{"s":"Brooker et al.","g":1,"x":3047,"y":7.16},{"s":"Brooker et al.","g":1,"x":3100,"y":8.6},{"s":"Brooker et al.","g":1,"x":3157,"y":10.02},{"s":"Brooker et al.","g":1,"x":3200,"y":11.2},{"s":"Brooker et al.","g":1,"x":3240,"y":12.11},{"s":"Brooker et al.","g":1,"x":3300,"y":12.65},{"s":"Brooker et al.","g":1,"x":3350,"y":12.5},{"s":"Brooker et al.","g":1,"x":3405,"y":11.93},{"s":"Brooker et al.","g":1,"x":3450,"y":11.1},{"s":"Brooker et al.","g":1,"x":3488,"y":10.02},{"s":"Brooker et al.","g":1,"x":3540,"y":8.6},{"s":"Brooker et al.","g":1,"x":3598,"y":7.16},{"s":"Brooker et al.","g":1,"x":3640,"y":5.9},{"s":"Brooker et al.","g":1,"x":3680,"y":4.69},{"s":"Brooker et al.","g":1,"x":3720,"y":3.8},
{"s":"Morawietz et al.","g":0,"x":100,"y":2.9},{"s":"Morawietz et al.","g":0,"x":140,"y":2.97},{"s":"Morawietz et al.","g":0,"x":250,"y":3.25},{"s":"Morawietz et al.","g":0,"x":388,"y":3.54},{"s":"Morawietz et al.","g":0,"x":520,"y":3.8},{"s":"Morawietz et al.","g":0,"x":664,"y":4.11},{"s":"Morawietz et al.","g":0,"x":760,"y":4.45},{"s":"Morawietz et al.","g":0,"x":857,"y":4.78},{"s":"Morawietz et al.","g":0,"x":940,"y":5.0},{"s":"Morawietz et al.","g":0,"x":1022,"y":5.16},{"s":"Morawietz et al.","g":0,"x":1215,"y":5.35},{"s":"Morawietz et al.","g":0,"x":1320,"y":5.6},{"s":"Morawietz et al.","g":0,"x":1408,"y":5.93},{"s":"Morawietz et al.","g":0,"x":1470,"y":6.3},{"s":"Morawietz et al.","g":0,"x":1518,"y":6.78},{"s":"Morawietz et al.","g":0,"x":1560,"y":7.6},{"s":"Morawietz et al.","g":0,"x":1600,"y":8.69},{"s":"Morawietz et al.","g":0,"x":1642,"y":10.2},{"s":"Morawietz et al.","g":0,"x":1670,"y":9.2},{"s":"Morawietz et al.","g":0,"x":1700,"y":8.1},{"s":"Morawietz et al.","g":0,"x":1738,"y":7.16},{"s":"Morawietz et al.","g":0,"x":1790,"y":6.3},{"s":"Morawietz et al.","g":0,"x":1849,"y":5.83},{"s":"Morawietz et al.","g":0,"x":1959,"y":5.49},{"s":"Morawietz et al.","g":0,"x":2070,"y":5.55},{"s":"Morawietz et al.","g":0,"x":2179,"y":5.64},{"s":"Morawietz et al.","g":0,"x":2317,"y":5.83},{"s":"Morawietz et al.","g":0,"x":2455,"y":6.02},{"s":"Morawietz et al.","g":0,"x":2500,"y":6.1},
{"s":"Morawietz et al.","g":1,"x":2551,"y":2.97},{"s":"Morawietz et al.","g":1,"x":2700,"y":2.98},{"s":"Morawietz et al.","g":1,"x":2826,"y":3.01},{"s":"Morawietz et al.","g":1,"x":2920,"y":3.25},{"s":"Morawietz et al.","g":1,"x":2992,"y":3.64},{"s":"Morawietz et al.","g":1,"x":3050,"y":4.3},{"s":"Morawietz et al.","g":1,"x":3102,"y":5.26},{"s":"Morawietz et al.","g":1,"x":3140,"y":6.6},{"s":"Morawietz et al.","g":1,"x":3171,"y":8.11},{"s":"Morawietz et al.","g":1,"x":3195,"y":9.5},{"s":"Morawietz et al.","g":1,"x":3218,"y":10.59},{"s":"Morawietz et al.","g":1,"x":3267,"y":11.26},{"s":"Morawietz et al.","g":1,"x":3322,"y":11.26},{"s":"Morawietz et al.","g":1,"x":3391,"y":11.54},{"s":"Morawietz et al.","g":1,"x":3446,"y":10.78},{"s":"Morawietz et al.","g":1,"x":3490,"y":9.6},{"s":"Morawietz et al.","g":1,"x":3543,"y":8.11},{"s":"Morawietz et al.","g":1,"x":3590,"y":6.9},{"s":"Morawietz et al.","g":1,"x":3625,"y":5.83},{"s":"Morawietz et al.","g":1,"x":3670,"y":4.8},{"s":"Morawietz et al.","g":1,"x":3708,"y":3.93},{"s":"Morawietz et al.","g":1,"x":3750,"y":3.3},{"s":"Morawietz et al.","g":1,"x":3791,"y":3.07},{"s":"Morawietz et al.","g":1,"x":3880,"y":3.02},{"s":"Morawietz et al.","g":1,"x":4000,"y":3.0},
{"s":"TNEP","g":0,"x":0,"y":1.4},{"s":"TNEP","g":0,"x":17,"y":1.45},{"s":"TNEP","g":0,"x":120,"y":1.65},{"s":"TNEP","g":0,"x":250,"y":1.83},{"s":"TNEP","g":0,"x":360,"y":1.9},{"s":"TNEP","g":0,"x":471,"y":1.98},{"s":"TNEP","g":0,"x":560,"y":2.2},{"s":"TNEP","g":0,"x":636,"y":2.4},{"s":"TNEP","g":0,"x":750,"y":2.5},{"s":"TNEP","g":0,"x":857,"y":2.59},{"s":"TNEP","g":0,"x":960,"y":2.62},{"s":"TNEP","g":0,"x":1077,"y":2.55},{"s":"TNEP","g":0,"x":1180,"y":2.6},{"s":"TNEP","g":0,"x":1298,"y":2.59},{"s":"TNEP","g":0,"x":1380,"y":2.7},{"s":"TNEP","g":0,"x":1435,"y":2.87},{"s":"TNEP","g":0,"x":1490,"y":3.15},{"s":"TNEP","g":0,"x":1532,"y":3.54},{"s":"TNEP","g":0,"x":1565,"y":4.3},{"s":"TNEP","g":0,"x":1587,"y":5.07},{"s":"TNEP","g":0,"x":1608,"y":6.8},{"s":"TNEP","g":0,"x":1628,"y":8.3},{"s":"TNEP","g":0,"x":1645,"y":9.1},{"s":"TNEP","g":0,"x":1655,"y":9.16},{"s":"TNEP","g":0,"x":1675,"y":8.7},{"s":"TNEP","g":0,"x":1697,"y":7.93},{"s":"TNEP","g":0,"x":1718,"y":6.5},{"s":"TNEP","g":0,"x":1738,"y":5.07},{"s":"TNEP","g":0,"x":1765,"y":4.0},{"s":"TNEP","g":0,"x":1793,"y":3.45},{"s":"TNEP","g":0,"x":1850,"y":3.3},{"s":"TNEP","g":0,"x":1903,"y":3.16},{"s":"TNEP","g":0,"x":2014,"y":2.97},{"s":"TNEP","g":0,"x":2100,"y":2.9},{"s":"TNEP","g":0,"x":2179,"y":2.87},{"s":"TNEP","g":0,"x":2250,"y":2.95},{"s":"TNEP","g":0,"x":2317,"y":3.07},{"s":"TNEP","g":0,"x":2380,"y":3.35},{"s":"TNEP","g":0,"x":2427,"y":3.64},{"s":"TNEP","g":0,"x":2488,"y":4.02},{"s":"TNEP","g":0,"x":2500,"y":4.05},
{"s":"TNEP","g":1,"x":2510,"y":1.49},{"s":"TNEP","g":1,"x":2700,"y":1.55},{"s":"TNEP","g":1,"x":2826,"y":1.64},{"s":"TNEP","g":1,"x":2920,"y":1.95},{"s":"TNEP","g":1,"x":2992,"y":2.4},{"s":"TNEP","g":1,"x":3050,"y":2.9},{"s":"TNEP","g":1,"x":3102,"y":3.54},{"s":"TNEP","g":1,"x":3150,"y":4.6},{"s":"TNEP","g":1,"x":3184,"y":5.64},{"s":"TNEP","g":1,"x":3230,"y":6.4},{"s":"TNEP","g":1,"x":3267,"y":6.78},{"s":"TNEP","g":1,"x":3320,"y":7.05},{"s":"TNEP","g":1,"x":3377,"y":7.26},{"s":"TNEP","g":1,"x":3420,"y":6.95},{"s":"TNEP","g":1,"x":3460,"y":6.59},{"s":"TNEP","g":1,"x":3500,"y":6.1},{"s":"TNEP","g":1,"x":3543,"y":5.64},{"s":"TNEP","g":1,"x":3600,"y":4.95},{"s":"TNEP","g":1,"x":3653,"y":4.3},{"s":"TNEP","g":1,"x":3720,"y":3.5},{"s":"TNEP","g":1,"x":3791,"y":2.78},{"s":"TNEP","g":1,"x":3840,"y":2.2},{"s":"TNEP","g":1,"x":3873,"y":1.83},{"s":"TNEP","g":1,"x":3930,"y":1.6},{"s":"TNEP","g":1,"x":4000,"y":1.55},
{"s":"T-EANN","g":0,"x":0,"y":0.0},{"s":"T-EANN","g":0,"x":17,"y":0.11},{"s":"T-EANN","g":0,"x":85,"y":0.87},{"s":"T-EANN","g":0,"x":140,"y":1.3},{"s":"T-EANN","g":0,"x":196,"y":1.54},{"s":"T-EANN","g":0,"x":260,"y":1.62},{"s":"T-EANN","g":0,"x":333,"y":1.73},{"s":"T-EANN","g":0,"x":400,"y":2.2},{"s":"T-EANN","g":0,"x":471,"y":2.78},{"s":"T-EANN","g":0,"x":540,"y":3.4},{"s":"T-EANN","g":0,"x":609,"y":3.93},{"s":"T-EANN","g":0,"x":692,"y":4.15},{"s":"T-EANN","g":0,"x":774,"y":4.02},{"s":"T-EANN","g":0,"x":840,"y":3.7},{"s":"T-EANN","g":0,"x":912,"y":3.35},{"s":"T-EANN","g":0,"x":1000,"y":3.05},{"s":"T-EANN","g":0,"x":1077,"y":2.78},{"s":"T-EANN","g":0,"x":1150,"y":2.6},{"s":"T-EANN","g":0,"x":1215,"y":2.5},{"s":"T-EANN","g":0,"x":1320,"y":2.5},{"s":"T-EANN","g":0,"x":1408,"y":2.59},{"s":"T-EANN","g":0,"x":1480,"y":2.8},{"s":"T-EANN","g":0,"x":1545,"y":3.35},{"s":"T-EANN","g":0,"x":1590,"y":4.5},{"s":"T-EANN","g":0,"x":1628,"y":6.02},{"s":"T-EANN","g":0,"x":1660,"y":8.3},{"s":"T-EANN","g":0,"x":1683,"y":9.83},{"s":"T-EANN","g":0,"x":1691,"y":10.63},{"s":"T-EANN","g":0,"x":1705,"y":9.5},{"s":"T-EANN","g":0,"x":1720,"y":8.0},{"s":"T-EANN","g":0,"x":1738,"y":6.4},{"s":"T-EANN","g":0,"x":1780,"y":4.5},{"s":"T-EANN","g":0,"x":1821,"y":3.54},{"s":"T-EANN","g":0,"x":1890,"y":2.8},{"s":"T-EANN","g":0,"x":1959,"y":2.21},{"s":"T-EANN","g":0,"x":2040,"y":1.9},{"s":"T-EANN","g":0,"x":2124,"y":1.64},{"s":"T-EANN","g":0,"x":2220,"y":1.5},{"s":"T-EANN","g":0,"x":2317,"y":1.45},{"s":"T-EANN","g":0,"x":2400,"y":1.38},{"s":"T-EANN","g":0,"x":2469,"y":1.3},{"s":"T-EANN","g":0,"x":2500,"y":1.3},
{"s":"T-EANN","g":1,"x":2992,"y":0.11},{"s":"T-EANN","g":1,"x":3070,"y":0.2},{"s":"T-EANN","g":1,"x":3130,"y":0.4},{"s":"T-EANN","g":1,"x":3190,"y":0.75},{"s":"T-EANN","g":1,"x":3240,"y":1.26},{"s":"T-EANN","g":1,"x":3285,"y":2.0},{"s":"T-EANN","g":1,"x":3322,"y":2.78},{"s":"T-EANN","g":1,"x":3380,"y":3.8},{"s":"T-EANN","g":1,"x":3433,"y":4.87},{"s":"T-EANN","g":1,"x":3470,"y":5.6},{"s":"T-EANN","g":1,"x":3501,"y":6.21},{"s":"T-EANN","g":1,"x":3543,"y":6.3},{"s":"T-EANN","g":1,"x":3580,"y":5.85},{"s":"T-EANN","g":1,"x":3625,"y":5.26},{"s":"T-EANN","g":1,"x":3670,"y":4.7},{"s":"T-EANN","g":1,"x":3708,"y":4.11},{"s":"T-EANN","g":1,"x":3760,"y":3.4},{"s":"T-EANN","g":1,"x":3818,"y":2.78},{"s":"T-EANN","g":1,"x":3870,"y":2.0},{"s":"T-EANN","g":1,"x":3928,"y":1.26},{"s":"T-EANN","g":1,"x":3970,"y":0.7},{"s":"T-EANN","g":1,"x":4000,"y":0.3}
]
},
"vconcat":[
{
"width":484,"height":298,
"layer":[
{"data":{"name":"a"},
"mark":{"type":"line","interpolate":"monotone","clip":true},
"encoding":{
"x":{"field":"x","type":"quantitative","scale":{"domain":[0,4000],"nice":false,"zero":false},"axis":{"orient":"bottom","values":[1000,2000,3000],"labels":false,"title":null}},
"y":{"field":"y","type":"quantitative","scale":{"domain":[0,17],"nice":false},"axis":{"orient":"left","values":[0,5,10,15],"title":"IR intensity (arb. units)","labelPadding":16,"titlePadding":24}},
"color":{"field":"s","type":"nominal","scale":{"domain":["Downing et al.","Max et al.","TNEP","DP","MB-pol","TIP3P"],"range":["#a3a3a3","#999999","#d63426","#3d8f57","#a5e6a0","#fdbf8f"]},"legend":{"orient":"none","legendX":60,"legendY":18,"columns":2,"columnPadding":6,"rowPadding":8.7,"title":null}},
"strokeDash":{"field":"s","type":"nominal","scale":{"domain":["Downing et al.","Max et al.","TNEP","DP","MB-pol","TIP3P"],"range":[[7,4],[9,4,2,4],[1,0],[1,0],[1,0],[1,0]]},"legend":{"orient":"none","legendX":60,"legendY":18,"columns":2,"columnPadding":6,"rowPadding":8.7,"title":null}},
"strokeWidth":{"field":"s","type":"nominal","scale":{"type":"ordinal","domain":["Downing et al.","Max et al.","TNEP","DP","MB-pol","TIP3P"],"range":[2.2,2.2,4.5,2.2,2.6,2.4]},"legend":{"orient":"none","legendX":60,"legendY":18,"columns":2,"columnPadding":6,"rowPadding":8.7,"title":null}},
"detail":{"field":"g"}
}},
{"data":{"values":[{"t":"a)","x":165,"y":15.15}]},
"mark":{"type":"text","align":"left","baseline":"middle","fontSize":23},
"encoding":{
"x":{"field":"x","type":"quantitative","scale":{"domain":[0,4000],"nice":false,"zero":false},"axis":{"orient":"top","values":[0,806.55,1613.1,2419.65,3226.2],"labelExpr":"format(datum.value/8.0655,'.0f')","title":"Energy (meV)","labelPadding":26,"titlePadding":1}},
"y":{"field":"y","type":"quantitative","scale":{"domain":[0,17],"nice":false},"axis":{"orient":"right","values":[5,10,15],"labels":false,"title":null}},
"text":{"field":"t"}
}}
],
"resolve":{"scale":{"x":"independent","y":"independent"}}
},
{
"width":484,"height":298,
"layer":[
{"data":{"name":"b"},
"mark":{"type":"line","interpolate":"monotone","clip":true},
"encoding":{
"x":{"field":"x","type":"quantitative","scale":{"domain":[0,4000],"nice":false,"zero":false},"axis":{"orient":"bottom","values":[1000,2000,3000],"labels":false,"title":null}},
"y":{"field":"y","type":"quantitative","scale":{"domain":[0,17],"nice":false},"axis":{"orient":"left","values":[0,5,10,15],"title":"Aniso. Raman (a.u.)","labelPadding":16,"titlePadding":24}},
"color":{"field":"s","type":"nominal","scale":{"domain":["Brooker et al.","Morawietz et al.","TNEP","T-EANN","DP","MB-pol"],"range":["#bdbdbd","#808080","#d63426","#739fd4","#3d8f57","#a5e6a0"]},"legend":{"orient":"none","legendX":115,"legendY":16,"columns":2,"columnPadding":16,"rowPadding":9.5,"title":null}},
"strokeDash":{"field":"s","type":"nominal","scale":{"domain":["Brooker et al.","Morawietz et al.","TNEP","T-EANN","DP","MB-pol"],"range":[[7,4],[9,4,2,4],[1,0],[1,0],[1,0],[1,0]]},"legend":{"orient":"none","legendX":115,"legendY":16,"columns":2,"columnPadding":16,"rowPadding":9.5,"title":null}},
"strokeWidth":{"field":"s","type":"nominal","scale":{"type":"ordinal","domain":["Brooker et al.","Morawietz et al.","TNEP","T-EANN","DP","MB-pol"],"range":[2.2,2.2,4.5,2.2,2.2,2.6]},"legend":{"orient":"none","legendX":115,"legendY":16,"columns":2,"columnPadding":16,"rowPadding":9.5,"title":null}},
"detail":{"field":"g"}
}},
{"data":{"values":[{"x":2500,"y":0,"y2":7.2}]},
"mark":{"type":"rule","color":"#222222","strokeWidth":2.2},
"encoding":{
"x":{"field":"x","type":"quantitative","scale":{"domain":[0,4000],"nice":false,"zero":false},"axis":{"orient":"top","values":[1000,2000,3000],"labels":false,"title":null}},
"y":{"field":"y","type":"quantitative","scale":{"domain":[0,17],"nice":false},"axis":{"orient":"right","values":[5,10,15],"labels":false,"title":null}},
"y2":{"field":"y2"}
}},
{"data":{"values":[{"t":"b)","x":165,"y":15.25}]},
"mark":{"type":"text","align":"left","baseline":"middle","fontSize":23},
"encoding":{
"x":{"field":"x","type":"quantitative","scale":{"domain":[0,4000],"nice":false,"zero":false},"axis":null},
"y":{"field":"y","type":"quantitative","scale":{"domain":[0,17],"nice":false},"axis":null},
"text":{"field":"t"}
}},
{"data":{"values":[{"t":"×25","x":2114,"y":8.92}]},
"mark":{"type":"text","align":"center","baseline":"middle","fontSize":26},
"encoding":{
"x":{"field":"x","type":"quantitative","scale":{"domain":[0,4000],"nice":false,"zero":false},"axis":null},
"y":{"field":"y","type":"quantitative","scale":{"domain":[0,17],"nice":false},"axis":null},
"text":{"field":"t"}
}}
],
"resolve":{"scale":{"x":"independent","y":"independent"}}
},
{
"width":484,"height":298,
"layer":[
{"data":{"name":"c"},
"mark":{"type":"line","interpolate":"monotone","clip":true},
"encoding":{
"x":{"field":"x","type":"quantitative","scale":{"domain":[0,4000],"nice":false,"zero":false},"axis":{"orient":"bottom","values":[0,1000,2000,3000,4000],"format":"d","title":"Frequency (cm⁻¹)","labelPadding":18,"titlePadding":12}},
"y":{"field":"y","type":"quantitative","scale":{"domain":[0,17],"nice":false},"axis":{"orient":"left","values":[0,5,10,15],"title":"Isotropic Raman (a.u.)","labelPadding":16,"titlePadding":24}},
"color":{"field":"s","type":"nominal","scale":{"domain":["Brooker et al.","Morawietz et al.","TNEP","T-EANN"],"range":["#bdbdbd","#808080","#d63426","#739fd4"]},"legend":null},
"strokeDash":{"field":"s","type":"nominal","scale":{"domain":["Brooker et al.","Morawietz et al.","TNEP","T-EANN"],"range":[[7,4],[9,4,2,4],[1,0],[1,0]]},"legend":null},
"strokeWidth":{"field":"s","type":"nominal","scale":{"type":"ordinal","domain":["Brooker et al.","Morawietz et al.","TNEP","T-EANN"],"range":[2.2,2.2,4.5,2.2]},"legend":null},
"detail":{"field":"g"}
}},
{"data":{"values":[{"x":2500,"y":0,"y2":7.83}]},
"mark":{"type":"rule","color":"#222222","strokeWidth":2.2},
"encoding":{
"x":{"field":"x","type":"quantitative","scale":{"domain":[0,4000],"nice":false,"zero":false},"axis":{"orient":"top","values":[1000,2000,3000],"labels":false,"title":null}},
"y":{"field":"y","type":"quantitative","scale":{"domain":[0,17],"nice":false},"axis":{"orient":"right","values":[5,10,15],"labels":false,"title":null}},
"y2":{"field":"y2"}
}},
{"data":{"values":[
{"x":204,"x2":204,"y":13.87,"y2":7.7},
{"x":163,"x2":204,"y":8.21,"y2":7.64},
{"x":245,"x2":204,"y":8.21,"y2":7.64},
{"x":443,"x2":810,"y":8.97,"y2":8.97},
{"x":443,"x2":443,"y":8.57,"y2":9.37},
{"x":810,"x2":810,"y":8.57,"y2":9.37},
{"x":2843,"x2":3960,"y":13.66,"y2":13.66},
{"x":2843,"x2":2843,"y":13.26,"y2":14.06},
{"x":3960,"x2":3960,"y":13.26,"y2":14.06}
]},
"mark":{"type":"rule","color":"#7a7a7a","strokeWidth":2.2},
"encoding":{
"x":{"field":"x","type":"quantitative","scale":{"domain":[0,4000],"nice":false,"zero":false},"axis":null},
"y":{"field":"y","type":"quantitative","scale":{"domain":[0,17],"nice":false},"axis":null},
"x2":{"field":"x2"},
"y2":{"field":"y2"}
}},
{"data":{"values":[{"t":"c)","x":165,"y":15.18}]},
"mark":{"type":"text","align":"left","baseline":"middle","fontSize":23},
"encoding":{
"x":{"field":"x","type":"quantitative","scale":{"domain":[0,4000],"nice":false,"zero":false},"axis":null},
"y":{"field":"y","type":"quantitative","scale":{"domain":[0,17],"nice":false},"axis":null},
"text":{"field":"t"}
}},
{"data":{"values":[{"t":"×180","x":2172,"y":8.37}]},
"mark":{"type":"text","align":"center","baseline":"middle","fontSize":26},
"encoding":{
"x":{"field":"x","type":"quantitative","scale":{"domain":[0,4000],"nice":false,"zero":false},"axis":null},
"y":{"field":"y","type":"quantitative","scale":{"domain":[0,17],"nice":false},"axis":null},
"text":{"field":"t"}
}},
{"data":{"values":[{"t":"H bond\nstretch","x":289,"y":13.92}]},
"mark":{"type":"text","align":"left","baseline":"top","fontSize":21,"lineBreak":"\n","lineHeight":24},
"encoding":{
"x":{"field":"x","type":"quantitative","scale":{"domain":[0,4000],"nice":false,"zero":false},"axis":null},
"y":{"field":"y","type":"quantitative","scale":{"domain":[0,17],"nice":false},"axis":null},
"text":{"field":"t"}
}},
{"data":{"values":[{"t":"libration","x":661,"y":10.0},{"t":"bending","x":1653,"y":14.0},{"t":"OH stretch","x":3380,"y":14.76}]},
"mark":{"type":"text","align":"center","baseline":"middle","fontSize":21},
"encoding":{
"x":{"field":"x","type":"quantitative","scale":{"domain":[0,4000],"nice":false,"zero":false},"axis":null},
"y":{"field":"y","type":"quantitative","scale":{"domain":[0,17],"nice":false},"axis":null},
"text":{"field":"t"}
}}
],
"resolve":{"scale":{"x":"independent","y":"independent"}}
}
],
"resolve":{"scale":{"color":"independent","strokeDash":"independent","strokeWidth":"independent"}},
"config":{
"font":"Liberation Sans",
"view":{"stroke":"#000000","strokeWidth":2.5},
"axis":{"domain":false,"grid":false,"tickColor":"#000000","tickWidth":2.5,"tickSize":-8,"labelFontSize":20,"labelColor":"#000000","labelFont":"Liberation Sans","titleFont":"Liberation Sans","titleFontSize":25,"titleFontWeight":"normal","titleColor":"#000000","labelFlush":false,"labelOverlap":false},
"legend":{"labelFontSize":20.5,"labelColor":"#000000","labelFont":"Liberation Sans","symbolType":"stroke","symbolSize":1870,"labelOffset":9,"clipHeight":20,"padding":0,"labelLimit":300},
"text":{"font":"Liberation Sans","color":"#000000"}
}
}
